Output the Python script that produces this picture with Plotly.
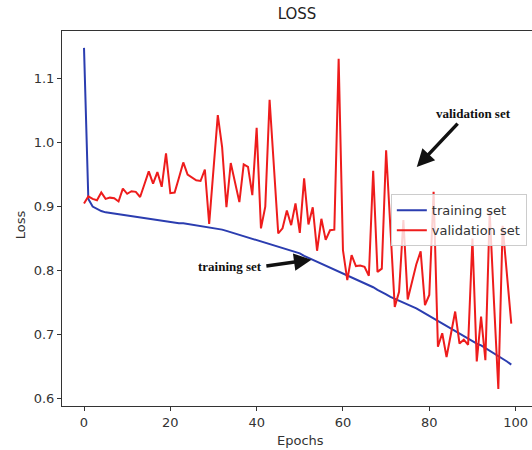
import plotly.graph_objects as go

epochs = list(range(100))

training_loss = [
    1.148, 0.912, 0.900, 0.896, 0.893, 0.891, 0.890, 0.889, 0.888, 0.887,
    0.886, 0.885, 0.884, 0.882, 0.881, 0.880, 0.879, 0.878, 0.877, 0.877,
    0.876, 0.875, 0.874, 0.874, 0.873, 0.872, 0.871, 0.870, 0.868, 0.867,
    0.866, 0.865, 0.864, 0.862, 0.860, 0.858, 0.856, 0.854, 0.852, 0.850,
    0.848, 0.846, 0.844, 0.842, 0.840, 0.838, 0.836, 0.834, 0.832, 0.830,
    0.827, 0.823, 0.820, 0.817, 0.814, 0.811, 0.808, 0.805, 0.802, 0.799,
    0.796, 0.793, 0.790, 0.787, 0.784, 0.781, 0.778, 0.774, 0.770, 0.767,
    0.763, 0.759, 0.756, 0.753, 0.751, 0.748, 0.745, 0.741, 0.737, 0.733,
    0.729, 0.725, 0.721, 0.718, 0.714, 0.710, 0.706, 0.702, 0.698, 0.694,
    0.690, 0.686, 0.683, 0.679, 0.675, 0.671, 0.667, 0.662, 0.658, 0.653,
]

validation_loss = [
    0.905, 0.916, 0.912, 0.910, 0.922, 0.912, 0.914, 0.913, 0.908, 0.928,
    0.920, 0.924, 0.923, 0.915, 0.935, 0.955, 0.936, 0.954, 0.931, 0.983,
    0.921, 0.922, 0.945, 0.969, 0.950, 0.945, 0.941, 0.940, 0.958, 0.873,
    0.958, 1.043, 0.993, 0.899, 0.968, 0.938, 0.907, 0.966, 0.962, 0.918,
    1.023, 0.866, 0.900, 1.067, 0.962, 0.858, 0.866, 0.894, 0.871, 0.905,
    0.859, 0.944, 0.872, 0.899, 0.831, 0.881, 0.848, 0.863, 0.864, 1.131,
    0.832, 0.785, 0.824, 0.807, 0.808, 0.806, 0.792, 0.956, 0.798, 0.803,
    0.988, 0.860, 0.743, 0.767, 0.879, 0.755, 0.785, 0.810, 0.830, 0.746,
    0.762, 0.923, 0.681, 0.702, 0.665, 0.700, 0.736, 0.686, 0.692, 0.684,
    0.850, 0.658, 0.728, 0.660, 0.892, 0.750, 0.615, 0.870, 0.790, 0.717,
]

y_ticks = [0.6, 0.7, 0.8, 0.9, 1.0, 1.1]
x_ticks = [0, 20, 40, 60, 80, 100]

BLUE = "#2b3db0"
RED = "#ee1c1c"
AX = "#333333"

fig = go.Figure()
fig.add_trace(go.Scatter(x=epochs, y=training_loss, mode="lines", name="training set",
                         line=dict(color=BLUE, width=2)))
fig.add_trace(go.Scatter(x=epochs, y=validation_loss, mode="lines", name="validation set",
                         line=dict(color=RED, width=2)))

fig.update_layout(
    width=532, height=450,
    margin=dict(l=62, r=0, t=31, b=44),
    paper_bgcolor="white", plot_bgcolor="white",
    font=dict(family="DejaVu Sans", size=13, color="#333333"),
    title=dict(text="LOSS", x=0.5, xref="paper", xanchor="center",
               y=1 - 14 / 450, yref="container", yanchor="middle",
               font=dict(size=15, color="#222222")),
    showlegend=True,
    legend=dict(x=0.989, y=0.5645, xanchor="right", yanchor="top",
                bgcolor="rgba(255,255,255,0.8)", bordercolor="#cccccc", borderwidth=1,
                font=dict(size=13, color="#333333"), tracegroupgap=0,
                itemwidth=30),
    xaxis=dict(range=[-5.1, 103.8], tickvals=x_ticks, showgrid=False, zeroline=False,
               showline=True, linecolor=AX, linewidth=1, mirror=True,
               ticks="outside", ticklen=4, tickcolor=AX,
               tickfont=dict(size=13, color="#333333")),
    yaxis=dict(range=[0.5884, 1.1744], tickvals=y_ticks, tickformat=".1f",
               showgrid=False, zeroline=False,
               showline=True, linecolor=AX, linewidth=1,
               ticks="outside", ticklen=4, tickcolor=AX,
               tickfont=dict(size=13, color="#333333")),
)

# axis labels
fig.add_annotation(text="Epochs", xref="paper", yref="paper", x=(300 - 62) / 470,
                   y=(405.7 - 440) / 375, showarrow=False,
                   font=dict(size=13, color="#333333"), xanchor="center", yanchor="middle")
fig.add_annotation(text="Loss", xref="paper", yref="paper", x=(20 - 62) / 470,
                   y=(405.7 - 225) / 375, showarrow=False, textangle=-90,
                   font=dict(size=13, color="#333333"), xanchor="center", yanchor="middle")

# callout texts
serif = dict(family="Liberation Serif", size=13, color="#111111")
fig.add_annotation(text="<b>training set</b>", x=33.8, y=0.807, xref="x", yref="y",
                   showarrow=False, font=serif)
fig.add_annotation(text="<b>validation set</b>", x=90.2, y=1.045, xref="x", yref="y",
                   showarrow=False, font=serif)

# arrows
fig.add_annotation(text="", x=52.7, y=0.817, ax=41.9, ay=0.807, xref="x", yref="y",
                   axref="x", ayref="y", showarrow=True, arrowhead=2, arrowsize=1,
                   arrowwidth=3.5, arrowcolor="#111111")
fig.add_annotation(text="", x=77.1, y=0.962, ax=86.9, ay=1.032, xref="x", yref="y",
                   axref="x", ayref="y", showarrow=True, arrowhead=2, arrowsize=1,
                   arrowwidth=3.5, arrowcolor="#111111")

fig.write_html("out.html")
